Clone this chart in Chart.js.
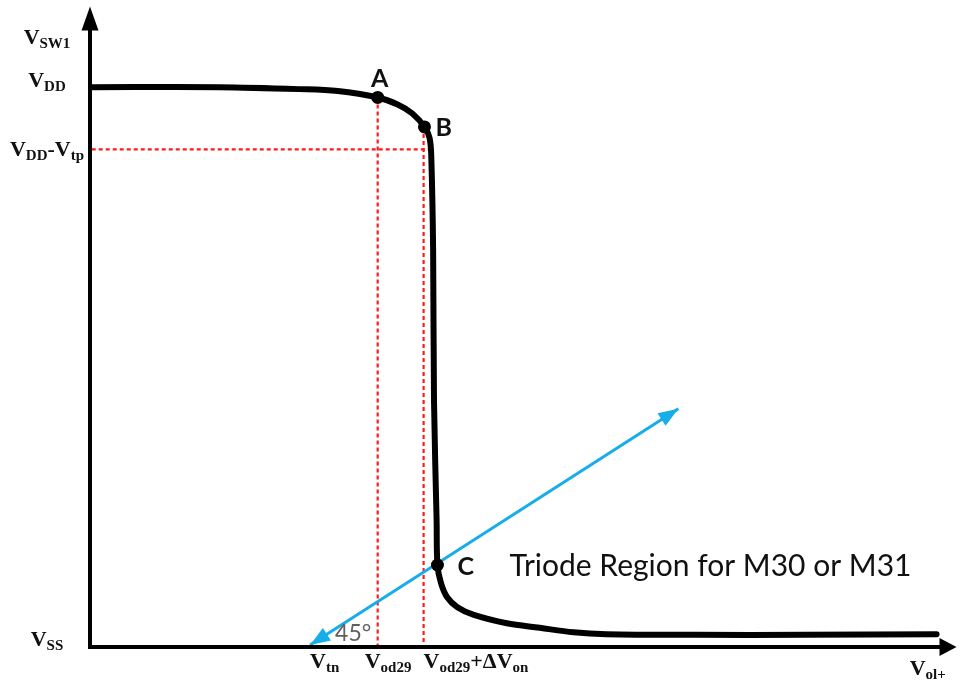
<!DOCTYPE html>
<html>
<head>
<meta charset="utf-8">
<title>VSW1 transfer curve</title>
<script src="https://cdn.jsdelivr.net/npm/chart.js@4.4.1/dist/chart.umd.min.js"></script>
<style>
  html, body { margin: 0; padding: 0; background: #fff; }
  canvas { display: block; }
</style>
</head>
<body>
<canvas id="curveChart" width="963" height="683"></canvas>
<script>
// curve (x: 0..100 along V_ol+, y: 0..100 along V_SW1)
const curveX = [0.2, 14.9, 24.1, 28.6, 33.2, 35.5, 37.2, 38.6, 39.2, 39.4, 39.6, 39.7, 40.0, 40.1, 40.5, 41.2, 42.4, 44.3, 48.1, 51.9, 55.8, 59.6, 69.9, 82.5, 97.7];
const curveY = [87.4, 87.4, 87.1, 86.8, 85.8, 84.7, 83.3, 81.2, 79.4, 75.9, 61.8, 38.5, 19.8, 12.8, 10.0, 7.8, 6.2, 5.0, 3.7, 3.0, 2.3, 2.0, 1.9, 1.9, 2.0];

// marked points
const pointNames = ['A', 'B', 'C'];
const pointX = [33.2, 38.6, 40.1];
const pointY = [85.8, 81.2, 12.8];

// red dashed guides
const vddVtpLevel = 77.7;
const vddVtpEndX = 39.3;
const guideX = [33.2, 38.5];
const guideTopY = [85.8, 81.2];

// blue 45 degree line (tail, head)
const slopeX = [25.4, 67.9];
const slopeY = [0.3, 37.2];

// tick labels
const yLabels = ['V_{SW1}', 'V_{DD}', 'V_{DD}-V_{tp}', 'V_{SS}'];
const yLabelValues = [95.3, 87.4, 77.7, 0];
const xLabels = ['V_{tn}', 'V_{od29}', 'V_{od29}+ΔV_{on}', 'V_{ol+}'];
const xLabelValues = [25.4, 33.2, 38.5, 94.6];

const regionText = 'Triode Region for M30 or M31';
const angleText = '45°';

const BLUE = '#16ade9';
const RED = '#ff1a1a';

function pts(xs, ys) {
  return xs.map(function (x, i) { return { x: x, y: ys[i] }; });
}

// text with _{subscript} parts
function drawRich(ctx, str, x, y, align) {
  const parts = str.split(/_\{([^}]*)\}/);
  const main = 'bold 22px "Liberation Serif"';
  const sub = 'bold 15px "Liberation Serif"';
  let w = 0;
  parts.forEach(function (p, i) {
    ctx.font = i % 2 ? sub : main;
    w += ctx.measureText(p).width;
  });
  let cx = align === 'center' ? x - w / 2 : x;
  parts.forEach(function (p, i) {
    ctx.font = i % 2 ? sub : main;
    ctx.fillText(p, cx, y + (i % 2 ? 4 : 0));
    cx += ctx.measureText(p).width;
  });
}

function arrowHead(ctx, tx, ty, fx, fy, len, half, color) {
  const a = Math.atan2(ty - fy, tx - fx);
  ctx.save();
  ctx.translate(tx, ty);
  ctx.rotate(a);
  ctx.beginPath();
  ctx.moveTo(0, 0);
  ctx.lineTo(-len, -half);
  ctx.lineTo(-len, half);
  ctx.closePath();
  ctx.fillStyle = color;
  ctx.fill();
  ctx.restore();
}

const diagramPlugin = {
  id: 'diagram',
  afterDatasetsDraw: function (chart) {
    const ctx = chart.ctx;
    const xs = chart.scales.x, ys = chart.scales.y;
    const ox = xs.getPixelForValue(0), oy = ys.getPixelForValue(0);
    const topY = ys.getPixelForValue(100), rightX = xs.getPixelForValue(100);

    // axes
    ctx.save();
    ctx.strokeStyle = '#000';
    ctx.lineWidth = 4;
    ctx.beginPath();
    ctx.moveTo(ox, oy + 2);
    ctx.lineTo(ox, topY + 20);
    ctx.moveTo(ox - 2, oy);
    ctx.lineTo(rightX - 14, oy);
    ctx.stroke();
    arrowHead(ctx, ox, topY, ox, oy, 24, 8.5, '#000');
    arrowHead(ctx, rightX, oy, ox, oy, 17, 9, '#000');

    // blue arrow heads
    const tx = xs.getPixelForValue(slopeX[0]), ty = ys.getPixelForValue(slopeY[0]);
    const hx = xs.getPixelForValue(slopeX[1]), hy = ys.getPixelForValue(slopeY[1]);
    arrowHead(ctx, tx, ty, hx, hy, 20, 7.5, BLUE);
    arrowHead(ctx, hx, hy, tx, ty, 20, 7.5, BLUE);

    // y labels
    ctx.fillStyle = '#111';
    ctx.textBaseline = 'alphabetic';
    const yShift = [7, 0, 7, -1];
    yLabels.forEach(function (t, i) {
      drawRich(ctx, t, 47, ys.getPixelForValue(yLabelValues[i]) + yShift[i], 'center');
    });
    // x labels
    const xShift = [0, -13, 0, 0];
    xLabels.forEach(function (t, i) {
      const base = i === 3 ? oy + 28 : oy + 21;
      drawRich(ctx, t, xs.getPixelForValue(xLabelValues[i]) + xShift[i], base, 'left');
    });

    // point letters
    ctx.font = 'bold 25px Lato';
    const lp = pointNames.map(function (n, i) {
      return { x: xs.getPixelForValue(pointX[i]), y: ys.getPixelForValue(pointY[i]) };
    });
    ctx.textAlign = 'center';
    ctx.fillText(pointNames[0], lp[0].x + 2, lp[0].y - 10);
    ctx.textAlign = 'left';
    ctx.fillText(pointNames[1], lp[1].x + 11, lp[1].y + 9);
    ctx.fillText(pointNames[2], lp[2].x + 20, lp[2].y + 10);

    ctx.font = '30px Lato';
    ctx.fillText(regionText, lp[2].x + 72, lp[2].y + 11);

    ctx.fillStyle = '#5f5f5f';
    ctx.font = '23px Lato';
    ctx.fillText(angleText, tx + 25, oy - 6);
    ctx.restore();
  }
};

new Chart(document.getElementById('curveChart'), {
  type: 'scatter',
  data: {
    datasets: [
      {
        order: 4,
        data: [{ x: 0.2, y: vddVtpLevel }, { x: vddVtpEndX, y: vddVtpLevel }],
        showLine: true, borderColor: RED, borderWidth: 2.2, borderDash: [4, 3], pointRadius: 0
      },
      {
        order: 4,
        data: [{ x: guideX[0], y: guideTopY[0] }, { x: guideX[0], y: 0 }],
        showLine: true, borderColor: RED, borderWidth: 2.2, borderDash: [4, 3], pointRadius: 0
      },
      {
        order: 4,
        data: [{ x: guideX[1], y: guideTopY[1] }, { x: guideX[1], y: 0 }],
        showLine: true, borderColor: RED, borderWidth: 2.2, borderDash: [4, 3], pointRadius: 0
      },
      {
        order: 2,
        data: pts(slopeX, slopeY),
        showLine: true, borderColor: BLUE, borderWidth: 3, pointRadius: 0
      },
      {
        order: 3,
        data: pts(curveX, curveY),
        showLine: true, borderColor: '#000', borderWidth: 6, pointRadius: 0,
        tension: 0.35, borderCapStyle: 'round', borderJoinStyle: 'round'
      },
      {
        order: 1,
        data: pts(pointX, pointY),
        showLine: false, pointRadius: 6.5, pointBackgroundColor: '#000',
        pointBorderColor: '#000', pointBorderWidth: 0
      }
    ]
  },
  options: {
    responsive: false,
    animation: false,
    layout: { padding: { left: 90, right: 0, top: 5, bottom: 36 } },
    scales: {
      x: { type: 'linear', min: 0, max: 100, display: false },
      y: { type: 'linear', min: 0, max: 100, display: false }
    },
    plugins: { legend: { display: false }, tooltip: { enabled: false } },
    elements: { line: { capBezierPoints: true } }
  },
  plugins: [diagramPlugin]
});
</script>
</body>
</html>
